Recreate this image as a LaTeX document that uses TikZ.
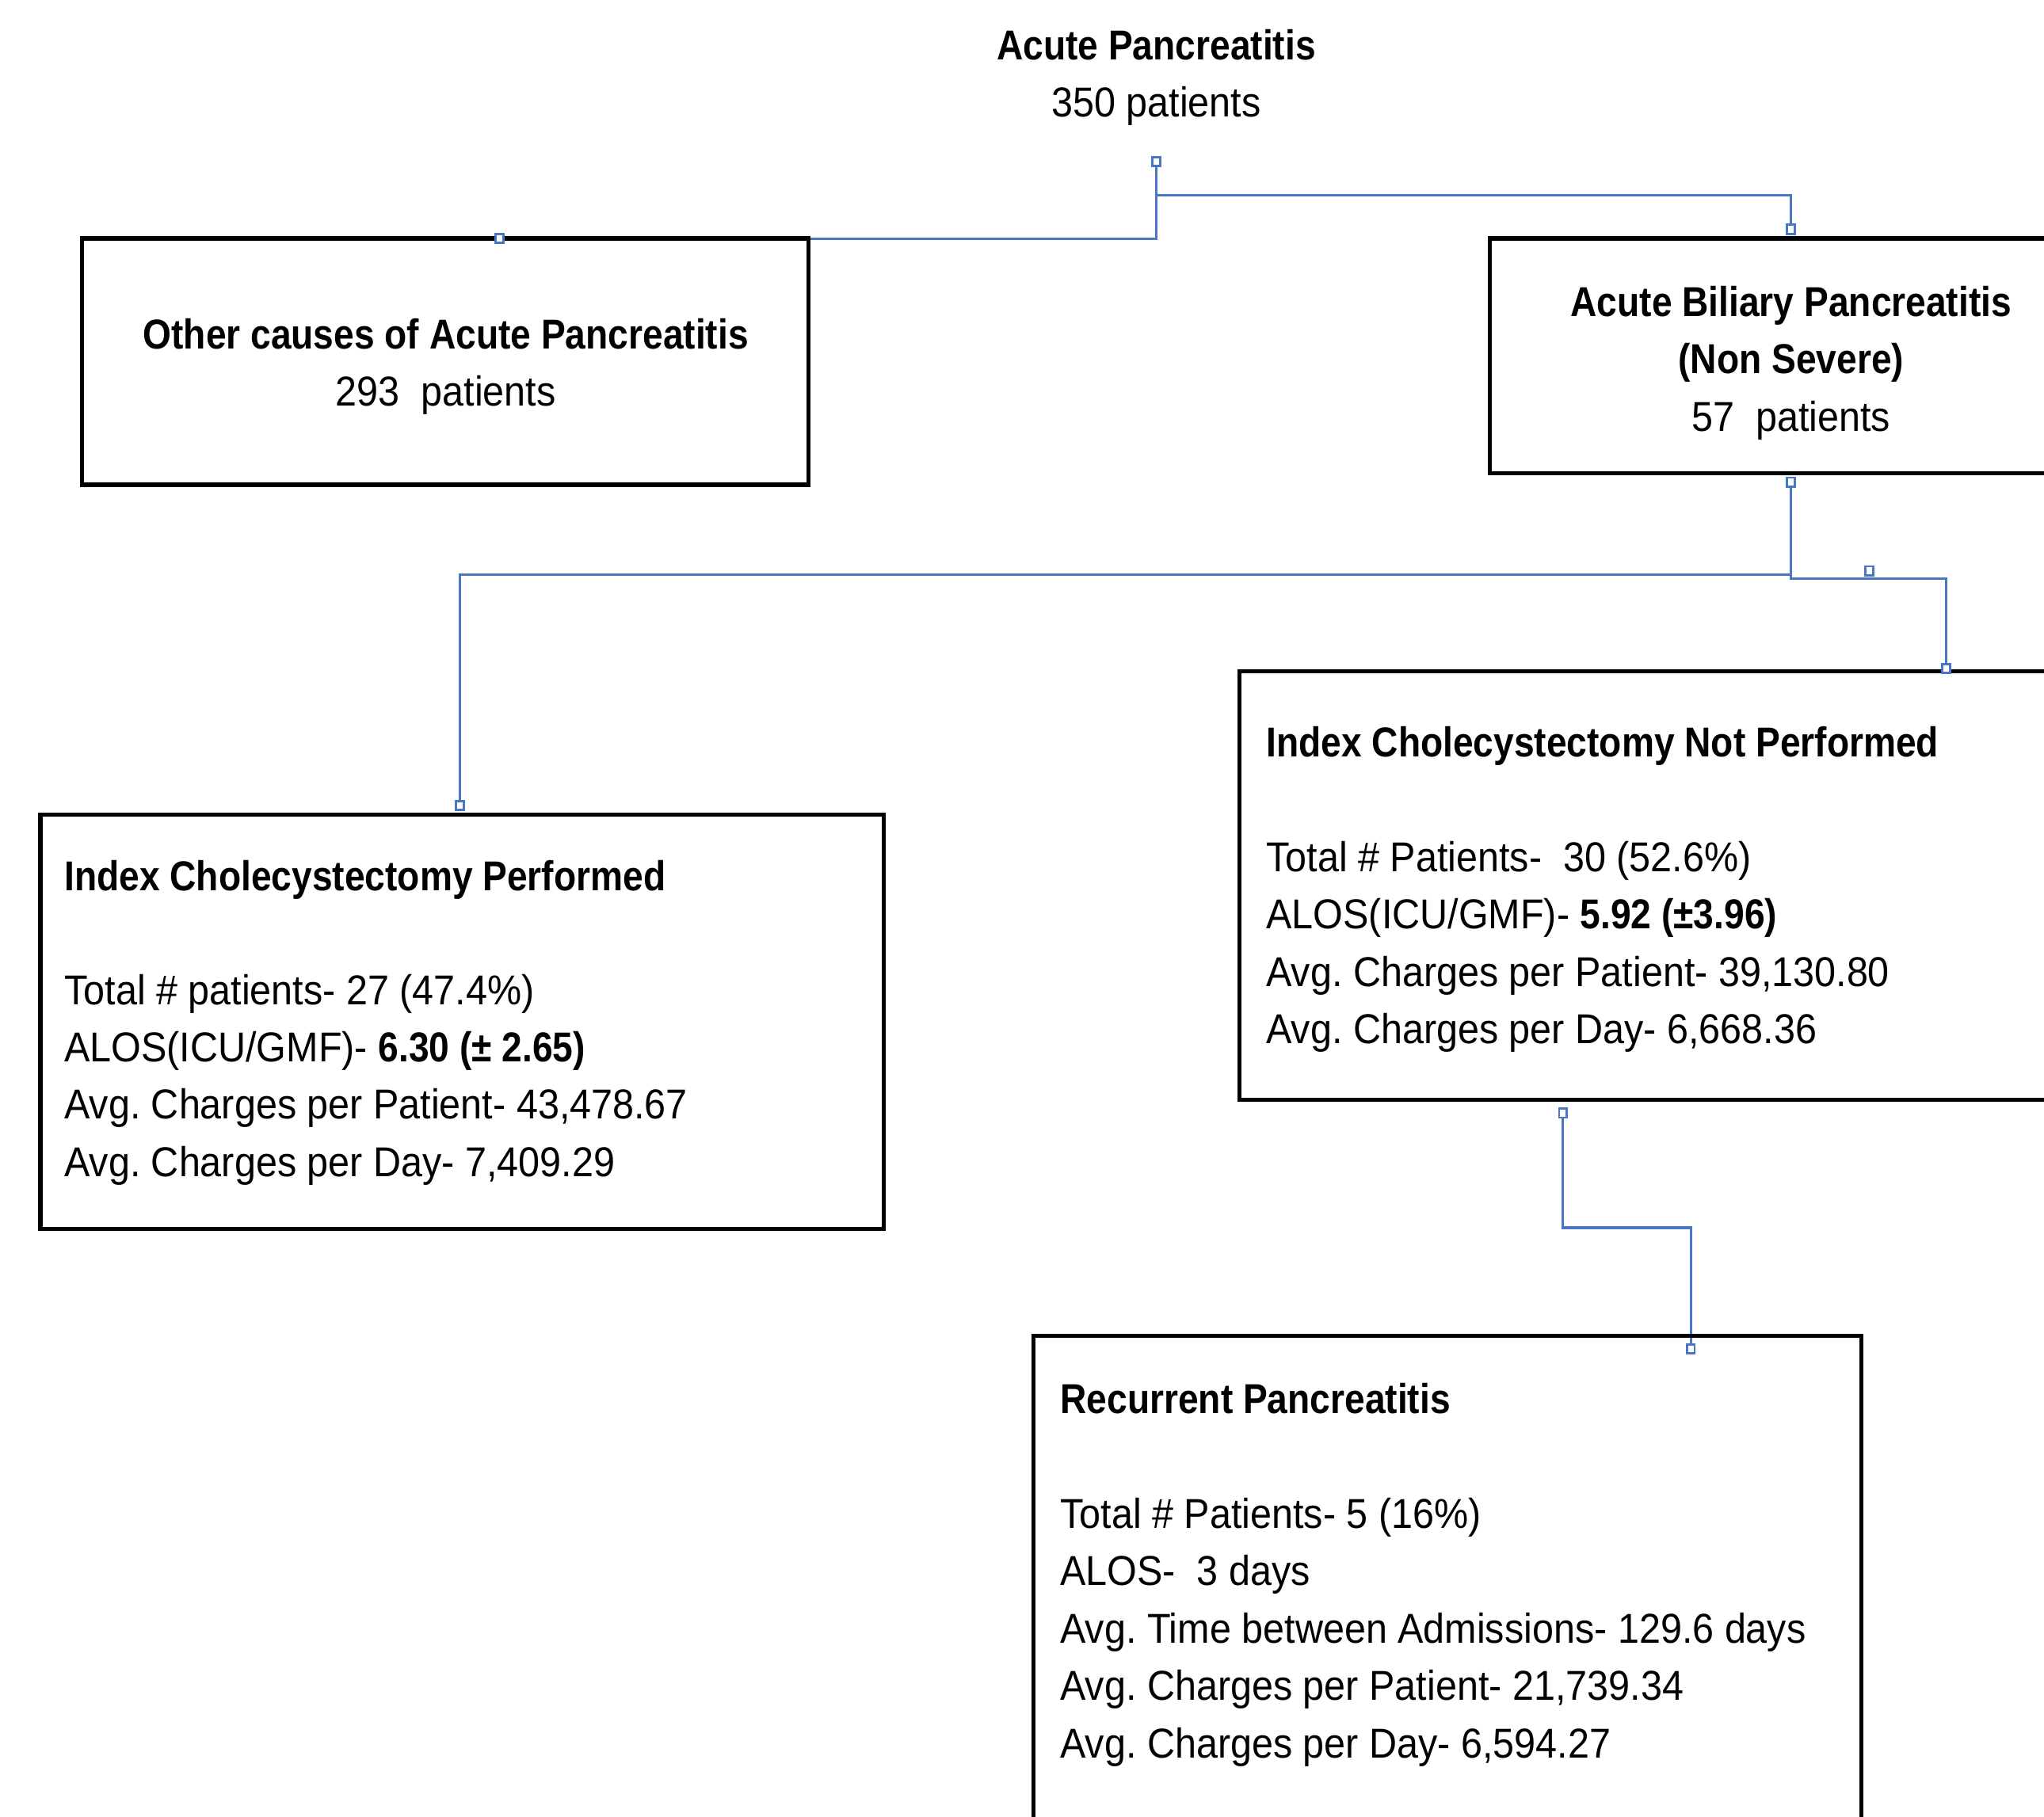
\documentclass[tikz,border=0pt]{standalone}
\usepackage{fontspec}
\setmainfont[UprightFeatures={FakeStretch=0.92},BoldFeatures={FakeStretch=0.875}]{Liberation Sans}
\definecolor{lineblue}{RGB}{74,118,198}
\newcommand\pxu{0.016454cm}
\frenchspacing
\begin{document}
\frenchspacing
\begin{tikzpicture}[x=0.016454cm,y=-0.016454cm,
  box/.style={draw=black, line width=1.5pt, inner sep=0pt, outer sep=0pt, anchor=north west},
  conn/.style={draw=lineblue, line width=0.9pt},
  sq/.style={draw=lineblue, line width=0.8pt, fill=white, inner sep=0pt, minimum width=6*\pxu, minimum height=7*\pxu},
  txt/.style={inner sep=0pt, font=\fontsize{15}{20.6}\selectfont},
]
\useasboundingbox (0,0) rectangle (1568,1394);

% connector points
\coordinate (pRoot) at (887,124);
\coordinate (pOth) at (383,183);
\coordinate (pBilTop) at (1374,176);
\coordinate (pBilBot) at (1374,370);
\coordinate (jBil) at (1374,441);
\coordinate (pIcp) at (353,618);
\coordinate (pMid) at (1434,438);
\coordinate (pIcnp) at (1493,513);
\coordinate (pIcnpBot) at (1199,854);
\coordinate (pRec) at (1297,1035);

% connectors
\draw[conn] (pRoot) |- (pOth);
\draw[conn] (pRoot) -- ++(0,26) -| (pBilTop);
\draw[conn] (pBilBot) -- (jBil) -| (pIcp);
\draw[conn] (jBil) -- ++(0,3) -| (pIcnp);
\draw[conn] (pIcnpBot) -- ++(0,88) -| (pRec);

% boxes
\node[box, minimum width=557*\pxu, minimum height=189*\pxu] (oth) at (63,183) {};
\node[box, minimum width=440*\pxu, minimum height=180*\pxu] (bil) at (1143,183) {};
\node[box, minimum width=647*\pxu, minimum height=318*\pxu] (icp) at (31,625) {};
\node[box, minimum width=640*\pxu, minimum height=329*\pxu] (icnp) at (951,515) {};
\node[box, minimum width=635*\pxu, minimum height=390*\pxu] (rec) at (793,1025) {};

% squares
\foreach \p in {pRoot,pOth,pBilTop,pBilBot,pIcp,pMid,pIcnp,pIcnpBot,pRec}
  \node[sq] (sq-\p) at (\p) {};

% texts
\node[txt, anchor=north, align=center] (tRoot) at (887,22)
  {\textbf{Acute Pancreatitis}\\350 patients};
\node[txt, anchor=north, align=center] (tOth) at (342,244)
  {\textbf{Other causes of Acute Pancreatitis}\\293\ \ patients};
\node[txt, anchor=north, align=center] (tBil) at (1374,219)
  {\textbf{Acute Biliary Pancreatitis}\\\textbf{(Non Severe)}\\57\ \ patients};

\node[txt, anchor=north west] (hIcp) at (49,660) {\textbf{Index Cholecystectomy Performed}};
\node[txt, anchor=north west, align=left] (bIcp) at (49,747)
  {Total \# patients- 27 (47.4\%)\\
   ALOS(ICU/GMF)- \textbf{6.30 (± 2.65)}\\
   Avg. Charges per Patient- 43,478.67\\
   Avg. Charges per Day- 7,409.29};

\node[txt, anchor=north west] (hIcnp) at (971,557) {\textbf{Index Cholecystectomy Not Performed}};
\node[txt, anchor=north west, align=left] (bIcnp) at (971,645)
  {Total \# Patients-\ \ 30 (52.6\%)\\
   ALOS(ICU/GMF)- \textbf{5.92 (±3.96)}\\
   Avg. Charges per Patient- 39,130.80\\
   Avg. Charges per Day- 6,668.36};

\node[txt, anchor=north west] (hRec) at (813,1061) {\textbf{Recurrent Pancreatitis}};
\node[txt, anchor=north west, align=left] (bRec) at (813,1149)
  {Total \# Patients- 5 (16\%)\\
   ALOS-\ \ 3 days\\
   Avg. Time between Admissions- 129.6 days\\
   Avg. Charges per Patient- 21,739.34\\
   Avg. Charges per Day- 6,594.27};
\end{tikzpicture}
\end{document}
